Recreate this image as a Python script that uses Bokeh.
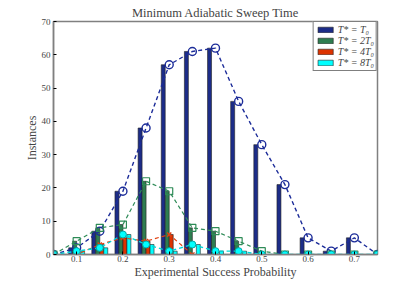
from bokeh.plotting import figure
from bokeh.models import Range1d, FixedTicker, Legend, LegendItem, ColumnDataSource
from bokeh.transform import dodge
from bokeh.embed import file_html
from bokeh.resources import INLINE

# success probability bins
prob = [0.05, 0.10, 0.15, 0.20, 0.25, 0.30, 0.35, 0.40, 0.45, 0.50, 0.55, 0.60, 0.65, 0.70, 0.75]
# instances per sweep time
t1 = [0, 2, 7, 19, 38, 57, 61, 62, 46, 33, 21, 5, 1, 5, 0]
t2 = [0, 4, 8, 9, 22, 19, 8, 7, 4, 1, 0, 0, 0, 0, 0]
t4 = [0, 0, 3, 5, 4, 6, 0, 0, 0, 0, 0, 0, 0, 0, 0]
t8 = [0, 1, 2, 6, 3, 1, 3, 1, 1, 0, 0, 0, 0, 0, 0]
labels = ["T* = T\u2080", "T* = 2T\u2080", "T* = 4T\u2080", "T* = 8T\u2080"]
x_ticks = [0.1, 0.2, 0.3, 0.4, 0.5, 0.6, 0.7]
y_ticks = [0, 10, 20, 30, 40, 50, 60, 70]

src = ColumnDataSource(dict(x=prob, t1=t1, t2=t2, t4=t4, t8=t8))

SERIF = "Liberation Serif"
p = figure(width=399, height=281, output_backend="svg", toolbar_location=None,
           x_range=Range1d(0.05, 0.75), y_range=Range1d(0, 70),
           min_border_left=53, min_border_right=22, min_border_top=21, min_border_bottom=24,
           title="Minimum Adiabatic Sweep Time")
p.title.text_font = SERIF
p.title.text_font_style = "normal"
p.title.text_font_size = "12.5px"
p.title.align = "center"
p.title.standoff = 4
p.xgrid.visible = False
p.ygrid.visible = False
p.outline_line_color = "#808080"
p.outline_line_width = 1.5
p.background_fill_color = "white"

for ax in (p.xaxis[0], p.yaxis[0]):
    ax.axis_line_color = "#808080"
    ax.axis_line_width = 1.5
    ax.major_tick_in = 3
    ax.major_tick_out = 0
    ax.major_tick_line_color = "black"
    ax.minor_tick_line_color = None
    ax.major_label_text_font = SERIF
    ax.major_label_text_font_size = "9px"
    ax.axis_label_text_font = SERIF
    ax.axis_label_text_font_style = "normal"
    ax.axis_label_text_font_size = "12px"
    ax.major_label_standoff = 1
    ax.axis_label_standoff = 0
p.yaxis.major_label_standoff = 3
p.xaxis.ticker = FixedTicker(ticks=x_ticks)
p.yaxis.ticker = FixedTicker(ticks=y_ticks)
p.xaxis.axis_label = "Experimental Success Probability"
p.yaxis.axis_label = "Instances"

cols = ["#1c2c88", "#2e7d50", "#dd3300", "#00ffff"]
keys = ["t1", "t2", "t4", "t8"]
w = 0.0086
offs = [-1.5 * w, -0.5 * w, 0.5 * w, 1.5 * w]
bars = []
for k, c, o in zip(keys, cols, offs):
    r = p.vbar(x=dodge("x", o, range=p.x_range), top=k, width=w, bottom=0, source=src,
               fill_color=c, line_color="#222222", line_width=0.6)
    bars.append(r)

lcols = ["#1c2c99", "#2e8b57", "#e04010", "#00d8d8"]
dash = "4 3"
# T0
p.line("x", "t1", source=src, line_color=lcols[0], line_dash=dash, line_width=1.4)
p.scatter("x", "t1", source=src, marker="circle", size=8, fill_alpha=0,
          line_color=lcols[0], line_width=1.4)
# 2T0
p.line("x", "t2", source=src, line_color=lcols[1], line_dash=dash, line_width=1.2)
p.scatter("x", "t2", source=src, marker="square", size=7, fill_alpha=0,
          line_color=lcols[1], line_width=1.2)
# 4T0
p.line("x", "t4", source=src, line_color=lcols[2], line_dash=dash, line_width=1.2)
p.scatter("x", "t4", source=src, marker="x", size=6, line_color=lcols[2], line_width=1.4)
# 8T0
p.line("x", "t8", source=src, line_color=lcols[3], line_dash=dash, line_width=1.4)
p.scatter("x", "t8", source=src, marker="circle", size=7, fill_color="#00ffff",
          line_color="#00a8a8", line_width=1)

legend = Legend(items=[LegendItem(label=l, renderers=[r]) for l, r in zip(labels, bars)],
                location="top_right", margin=0, padding=2, spacing=0,
                glyph_width=19, glyph_height=7, label_height=8, label_standoff=3,
                label_text_font=SERIF, label_text_font_style="italic",
                label_text_font_size="10px", border_line_color="black",
                border_line_width=1, background_fill_alpha=1)
p.add_layout(legend)

open("out.html", "w").write(file_html(p, INLINE))
